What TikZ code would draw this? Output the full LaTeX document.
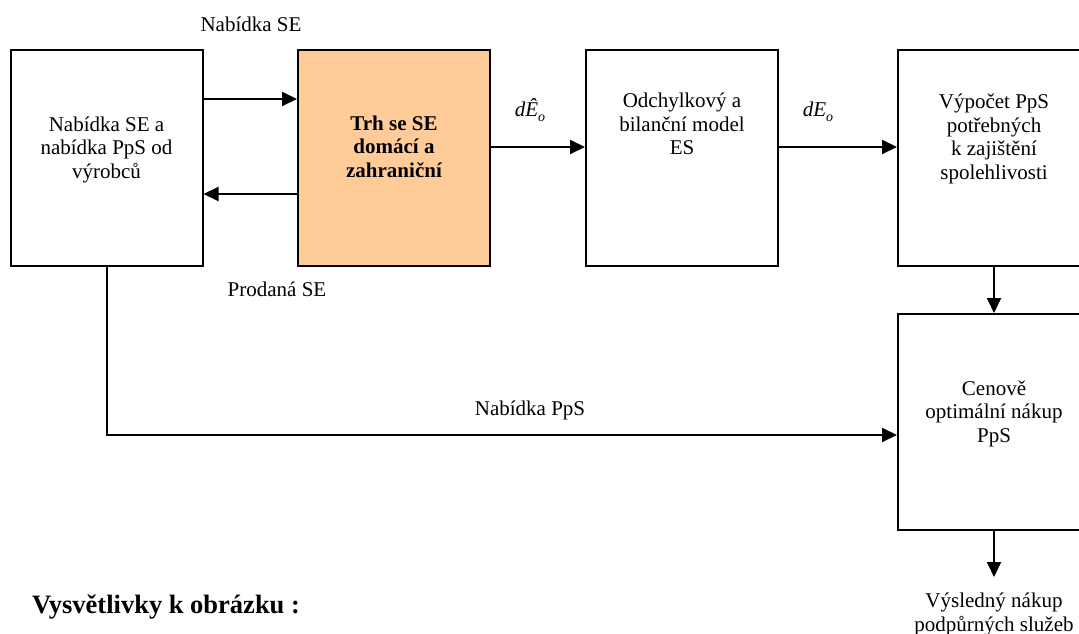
\documentclass[tikz,border=0pt]{standalone}
\usepackage{fontspec}
\setmainfont{Liberation Serif}
\usetikzlibrary{arrows.meta}
\definecolor{boxorange}{RGB}{255,204,153}
\tikzset{
  blk/.style={draw=black, line width=2pt, minimum width=192pt, minimum height=216pt, inner sep=0pt, anchor=center},
  txt/.style={font=\fontsize{21}{23.5}\selectfont, align=center, inner sep=0pt},
  lbl/.style={font=\fontsize{21}{23.5}\selectfont, inner sep=0pt, anchor=base},
  arr/.style={line width=2pt, -{Triangle[length=15pt,width=14pt]}},
  ln/.style={line width=2pt}
}
\begin{document}
\begin{tikzpicture}[x=1pt,y=-1pt]
\useasboundingbox (0,0) rectangle (1079,634);
\clip (0,0) rectangle (1079,634);
% boxes
\node[blk] (A) at (106.5,158) {};
\node[blk, fill=boxorange] (B) at (394,158) {};
\node[blk] (C) at (682,158) {};
\node[blk] (D) at (994,158) {};
\node[blk] (E) at (994,422) {};
% box texts
\node[txt] (tA) at (106.5,149.5) {Nabídka SE a\\nabídka PpS od\\výrobců};
\node[txt, font=\fontsize{21}{23.5}\selectfont\bfseries] (tB) at (394,146.5) {Trh se SE\\domácí a\\zahraniční};
\node[txt] (tC) at (682,124) {Odchylkový a\\bilanční model\\ES};
\node[txt] (tD) at (994,139) {Výpočet PpS\\potřebných\\k zajištění\\spolehlivosti};
\node[txt] (tE) at (994,413.5) {Cenově\\optimální nákup\\PpS};
\node[txt] (out) at (994,614.5) {Výsledný nákup\\podpůrných služeb};
% labels
\node[lbl] (l1) at (251,32) {Nabídka SE};
\node[lbl] (l2) at (277,296) {Prodaná SE};
\node[lbl] (l3) at (530,415) {Nabídka PpS};
\node[lbl] (l4) at (530,117) {\itshape dÊ\raisebox{-5pt}{\fontsize{14}{14}\selectfont o}};
\node[lbl] (l5) at (818,117) {\itshape dE\raisebox{-5pt}{\fontsize{14}{14}\selectfont o}};
\node[anchor=base west, inner sep=0pt, font=\fontsize{26.5}{30}\selectfont\bfseries] (vys) at (32,613) {Vysvětlivky k obrázku :};
% connectors
\draw[arr] (A.east |- 0,99) -- (B.west |- 0,99);
\draw[arr] (B.west |- 0,194) -- (A.east |- 0,194);
\draw[arr] (B.east |- 0,147) -- (C.west |- 0,147);
\draw[arr] (C.east |- 0,147) -- (D.west |- 0,147);
\draw[arr] (D.south) -- (E.north);
\coordinate (outtop) at (994,577);
\draw[arr] (E.south) -- (outtop);
\coordinate (bend) at (106.5,435);
\draw[arr] (A.south) -- (bend) -- (E.west |- bend);
\end{tikzpicture}
\end{document}
